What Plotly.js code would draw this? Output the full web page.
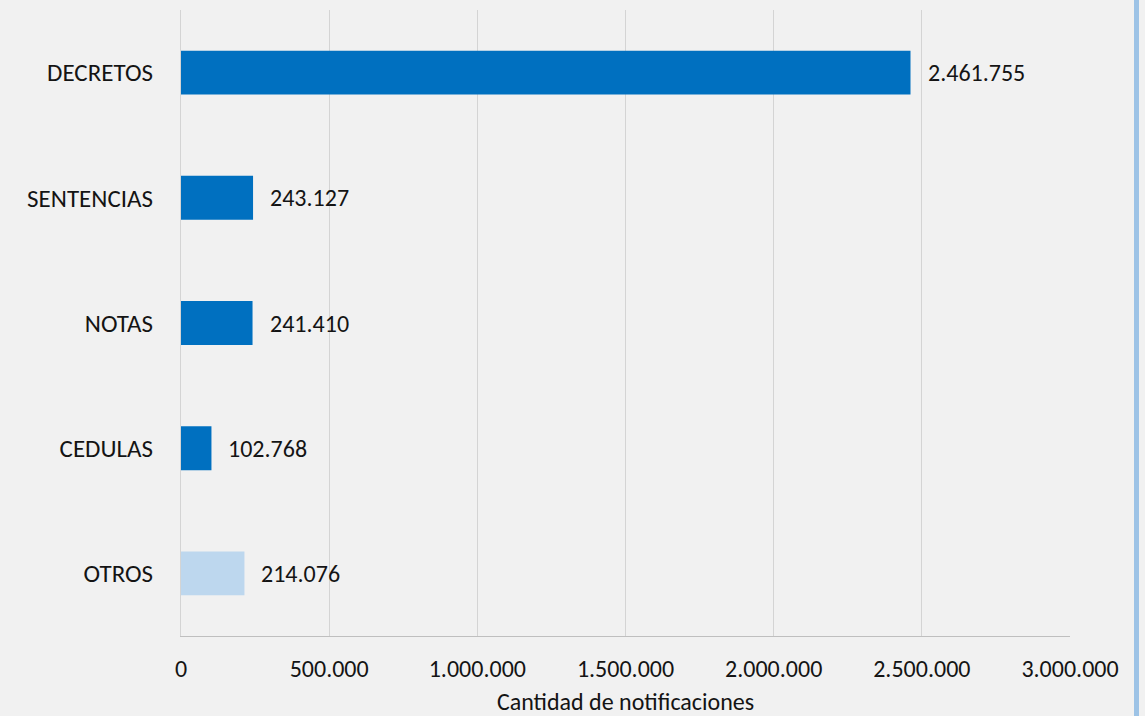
<!DOCTYPE html>
<html>
<head>
<meta charset="utf-8">
<script src="https://cdn.plot.ly/plotly-3.0.1.min.js"></script>
<style>
  html, body { margin: 0; padding: 0; background: #f1f1f1; }
  #chart { width: 1145px; height: 716px; }
</style>
</head>
<body>
<div id="chart"></div>
<script>
const categories = ["DECRETOS", "SENTENCIAS", "NOTAS", "CEDULAS", "OTROS"];
const values = [2461755, 243127, 241410, 102768, 214076];
const valueLabels = ["2.461.755", "243.127", "241.410", "102.768", "214.076"];
const barColors = ["#0070C0", "#0070C0", "#0070C0", "#0070C0", "#BDD7EE"];
const tickValues = [0, 500000, 1000000, 1500000, 2000000, 2500000, 3000000];
const tickLabels = ["0", "500.000", "1.000.000", "1.500.000", "2.000.000", "2.500.000", "3.000.000"];
const xTitle = "Cantidad de notificaciones";

const FONT = "Carlito, Lato, 'Open Sans', sans-serif";
const TXT = "#141414";

const trace = {
  type: "bar",
  orientation: "h",
  x: values,
  y: categories,
  marker: { color: barColors },
  hoverinfo: "x+y"
};

const annotations = values.map((v, i) => ({
  x: v, y: categories[i], xref: "x", yref: "y",
  text: valueLabels[i], showarrow: false,
  xanchor: "left", yanchor: "middle", xshift: 15,
  font: { family: FONT, size: 24, color: TXT }
}));

const layout = {
  width: 1145, height: 716,
  margin: { l: 181, r: 75, t: 10, b: 80 },
  paper_bgcolor: "#f1f1f1",
  plot_bgcolor: "rgba(0,0,0,0)",
  bargap: 0.649,
  showlegend: false,
  font: { family: FONT, size: 24, color: TXT },
  xaxis: {
    range: [0, 3000000],
    tickvals: tickValues,
    ticktext: tickLabels,
    showgrid: true,
    gridcolor: "#d4d4d4",
    gridwidth: 1,
    zeroline: false,
    showline: true,
    linecolor: "#bfbfbf",
    linewidth: 1,
    ticks: "",
    ticklabelstandoff: 11,
    tickfont: { family: FONT, size: 24, color: TXT },
    title: { text: xTitle, standoff: 14, font: { family: FONT, size: 24, color: TXT } },
    fixedrange: true
  },
  yaxis: {
    autorange: "reversed",
    showgrid: false,
    showline: true,
    linecolor: "#d4d4d4",
    linewidth: 1,
    ticks: "",
    ticklabelstandoff: 22,
    tickfont: { family: FONT, size: 25, color: TXT },
    fixedrange: true
  },
  annotations: annotations,
  shapes: [{
    type: "line", xref: "paper", yref: "paper",
    x0: 1.0748, x1: 1.0748, y0: -0.14, y1: 1.03,
    line: { color: "#9DC3E6", width: 5 }
  }]
};

Plotly.newPlot("chart", [trace], layout, { displayModeBar: false, staticPlot: true });
</script>
</body>
</html>
